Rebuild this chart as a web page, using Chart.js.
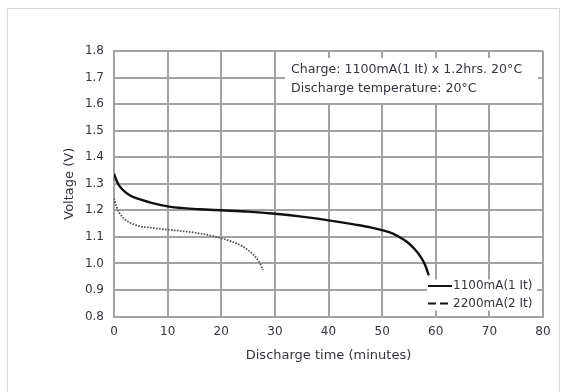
<!DOCTYPE html>
<html>
<head>
<meta charset="utf-8">
<script src="https://cdn.jsdelivr.net/npm/chart.js@4/dist/chart.umd.min.js"></script>
<style>
  html, body { margin: 0; padding: 0; background: #fff; }
  #wrap { position: relative; width: 569px; height: 392px; }
  #frame { position: absolute; left: 7px; top: 8px; width: 553px; height: 400px; border: 1px solid #d6d6d6; box-sizing: border-box; }
  canvas { position: absolute; left: 0; top: 0; }
</style>
</head>
<body>
<div id="wrap">
  <div id="frame"></div>
  <canvas id="c" width="569" height="392"></canvas>
</div>
<script>
// Discharge at 1100mA (1 It)
const time1100 = [0, 0.5, 1, 2, 3, 4, 5, 7, 10, 13, 16, 20, 25, 30, 35, 40, 45, 48, 50, 52, 54, 55, 56, 57, 58, 58.7];
const volt1100 = [1.338, 1.31, 1.292, 1.27, 1.256, 1.247, 1.24, 1.228, 1.215, 1.208, 1.204, 1.2, 1.195, 1.187, 1.176, 1.162, 1.146, 1.135, 1.125, 1.112, 1.09, 1.075, 1.055, 1.03, 0.995, 0.955];

// Discharge at 2200mA (2 It)
const time2200 = [0, 0.5, 1, 2, 3, 4, 5, 7, 10, 13, 16, 18, 20, 22, 24, 25, 26, 27, 27.8];
const volt2200 = [1.245, 1.212, 1.19, 1.166, 1.153, 1.145, 1.139, 1.134, 1.127, 1.121, 1.113, 1.105, 1.095, 1.082, 1.064, 1.05, 1.032, 1.008, 0.975];

const seriesLabels = ['1100mA(1 It)', '2200mA(2 It)'];
const xTicks = [0, 10, 20, 30, 40, 50, 60, 70, 80];
const yTicks = [0.8, 0.9, 1.0, 1.1, 1.2, 1.3, 1.4, 1.5, 1.6, 1.7, 1.8];
const noteLines = ['Charge: 1100mA(1 It) x 1.2hrs. 20°C', 'Discharge temperature: 20°C'];
const xTitle = 'Discharge time (minutes)';
const yTitle = 'Voltage (V)';

const FONT = "'DejaVu Sans', 'Liberation Sans', sans-serif";
const TEXT = '#34343f';
const GRID = '#a2a2a2';

const toPoints = (xs, ys) => xs.map((x, i) => ({ x: x, y: ys[i] }));

// Condition note (top right) and line-style key (bottom right), on white panels over the grid
const panels = {
  id: 'panels',
  afterDatasetsDraw(chart) {
    const { ctx, chartArea: a } = chart;
    ctx.save();
    ctx.font = '12.6px ' + FONT;
    ctx.textBaseline = 'middle';
    ctx.textAlign = 'left';

    // note panel
    const nx = a.left + 177;
    ctx.fillStyle = '#fff';
    ctx.fillRect(nx - 6, a.top + 7, a.right - 5 - (nx - 6), 45);
    ctx.fillStyle = TEXT;
    noteLines.forEach((t, i) => ctx.fillText(t, nx, a.top + 19 + i * 19));

    // key panel
    const kx = a.left + 313;
    const ky = a.bottom - 37;
    ctx.fillStyle = '#fff';
    ctx.fillRect(kx, ky, a.right - 6 - kx, 31);
    ctx.font = '12px ' + FONT;
    chart.data.datasets.forEach((ds, i) => {
      const y = ky + 6.5 + i * 17.6;
      ctx.strokeStyle = '#111';
      ctx.lineWidth = 2;
      ctx.setLineDash(i === 0 ? [] : [8, 4]);
      ctx.beginPath();
      ctx.moveTo(kx + 1, y);
      ctx.lineTo(kx + 25, y);
      ctx.stroke();
      ctx.setLineDash([]);
      ctx.fillStyle = TEXT;
      ctx.fillText(ds.label, kx + 26, y);
    });
    ctx.restore();
  }
};

new Chart(document.getElementById('c'), {
  type: 'scatter',
  data: {
    datasets: [
      {
        label: seriesLabels[0],
        data: toPoints(time1100, volt1100),
        showLine: true,
        borderColor: '#111',
        borderWidth: 2.4,
        pointRadius: 0,
        cubicInterpolationMode: 'monotone'
      },
      {
        label: seriesLabels[1],
        data: toPoints(time2200, volt2200),
        showLine: true,
        borderColor: '#555',
        borderWidth: 1.8,
        borderDash: [1.6, 1.4],
        pointRadius: 0,
        cubicInterpolationMode: 'monotone'
      }
    ]
  },
  options: {
    responsive: false,
    animation: false,
    events: [],
    layout: { padding: { left: 58, top: 51, right: 26, bottom: 29 } },
    plugins: { legend: { display: false }, tooltip: { enabled: false } },
    scales: {
      x: {
        type: 'linear',
        min: xTicks[0],
        max: xTicks[xTicks.length - 1],
        afterBuildTicks: s => { s.ticks = xTicks.map(v => ({ value: v })); },
        afterFit: s => { s.height = 46.5; },
        grid: { color: GRID, lineWidth: 2, drawTicks: false },
        border: { display: true, color: GRID, width: 2 },
        ticks: { color: TEXT, font: { family: FONT, size: 12 }, padding: 8, maxRotation: 0,
                 callback: v => String(v) },
        title: { display: true, text: xTitle, color: TEXT, font: { family: FONT, size: 13 },
                 padding: { top: 0, bottom: 0 } }
      },
      y: {
        type: 'linear',
        min: yTicks[0],
        max: yTicks[yTicks.length - 1],
        afterBuildTicks: s => { s.ticks = yTicks.map(v => ({ value: v })); },
        afterFit: s => { s.width = 56; },
        grid: { color: GRID, lineWidth: 2, drawTicks: false },
        border: { display: true, color: GRID, width: 2 },
        ticks: { color: TEXT, font: { family: FONT, size: 12 }, padding: 10,
                 callback: v => Number(v).toFixed(1) },
        title: { display: true, text: yTitle, color: TEXT, font: { family: FONT, size: 13 },
                 padding: { top: 4, bottom: 0 } }
      }
    }
  },
  plugins: [panels]
});
</script>
</body>
</html>
